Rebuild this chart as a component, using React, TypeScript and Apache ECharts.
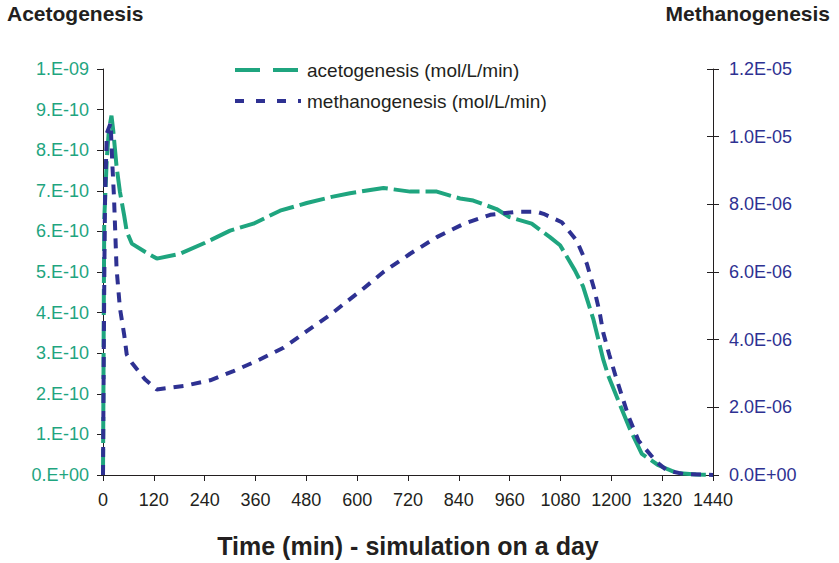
import React, { useEffect, useRef } from "react";
import * as echarts from "echarts";

const acetoTime = [0, 1, 2, 3, 9, 14, 20, 24, 32, 40, 50, 56, 68, 99, 127, 182, 241, 300, 355, 418, 481, 540, 583, 662, 725, 788, 843, 874, 929, 960, 1012, 1055, 1079, 1114, 1133, 1158, 1181, 1193, 1220, 1244, 1272, 1311, 1354, 1400, 1440];
const acetoValues = [0, 2.0e-10, 4.5e-10, 6.3e-10, 7.8e-10, 8.5e-10, 8.85e-10, 8.5e-10, 7.6e-10, 6.97e-10, 6.39e-10, 6.0e-10, 5.7e-10, 5.5e-10, 5.33e-10, 5.45e-10, 5.72e-10, 6.02e-10, 6.19e-10, 6.51e-10, 6.7e-10, 6.85e-10, 6.94e-10, 7.07e-10, 6.98e-10, 6.98e-10, 6.81e-10, 6.76e-10, 6.55e-10, 6.35e-10, 6.19e-10, 5.86e-10, 5.66e-10, 5.04e-10, 4.65e-10, 3.82e-10, 2.84e-10, 2.44e-10, 1.74e-10, 1.13e-10, 0.52e-10, 0.24e-10, 0.05e-10, 0.01e-10, 0];

const methanoTime = [0, 1, 2, 3.5, 5, 9, 18, 22, 26, 28, 32, 40, 50, 56, 68, 99, 127, 190, 253, 308, 363, 426, 481, 536, 583, 611, 662, 725, 788, 851, 914, 976, 1024, 1040, 1083, 1118, 1142, 1159, 1172, 1181, 1195, 1209, 1225, 1240, 1264, 1307, 1331, 1370, 1440];
const methanoValues = [0, 2.0e-6, 4.0e-6, 6.5e-6, 8.3e-6, 10.1e-6, 10.4e-6, 9.2e-6, 8.2e-6, 7.5e-6, 6.1e-6, 4.93e-6, 4.15e-6, 3.56e-6, 3.32e-6, 2.83e-6, 2.53e-6, 2.63e-6, 2.8e-6, 3.07e-6, 3.37e-6, 3.76e-6, 4.25e-6, 4.73e-6, 5.2e-6, 5.47e-6, 6.0e-6, 6.54e-6, 7.03e-6, 7.42e-6, 7.69e-6, 7.78e-6, 7.78e-6, 7.72e-6, 7.47e-6, 6.93e-6, 6.25e-6, 5.52e-6, 4.83e-6, 4.2e-6, 3.56e-6, 2.97e-6, 2.34e-6, 1.75e-6, 1.02e-6, 0.38e-6, 0.14e-6, 0.03e-6, 0];

const leftTickLabels = ["0.E+00", "1.E-10", "2.E-10", "3.E-10", "4.E-10", "5.E-10", "6.E-10", "7.E-10", "8.E-10", "9.E-10", "1.E-09"];
const rightTickLabels = ["0.0E+00", "2.0E-06", "4.0E-06", "6.0E-06", "8.0E-06", "1.0E-05", "1.2E-05"];

const seriesNames = ["acetogenesis (mol/L/min)", "methanogenesis (mol/L/min)"];
const leftTitle = "Acetogenesis";
const rightTitle = "Methanogenesis";
const xTitle = "Time (min) - simulation on a day";

const GREEN = "#1FA57F";
const BLUE = "#2E3192";
const DARK = "#231F20";
const FONT = "'Liberation Sans', Arial, sans-serif";

export default function App() {
  const ref = useRef<HTMLDivElement>(null);
  useEffect(() => {
    if (!ref.current) return;
    const chart = echarts.init(ref.current, null, { renderer: "svg" });
    const legendX = 235;
    const legendY = [70, 101];
    const legendDash = [[25, 13], [9, 12]];
    const legendColors = [GREEN, BLUE];
    chart.setOption({
      animation: false,
      backgroundColor: "#ffffff",
      textStyle: { fontFamily: FONT },
      title: [
        {
          text: leftTitle,
          left: 7,
          top: 3,
          padding: 0,
          textStyle: { fontFamily: FONT, fontSize: 21, fontWeight: "bold", color: DARK },
        },
        {
          text: rightTitle,
          right: 9,
          top: 3,
          padding: 0,
          textStyle: { fontFamily: FONT, fontSize: 21, fontWeight: "bold", color: DARK },
        },
      ],
      graphic: seriesNames.flatMap((name, i) => [
        {
          type: "line",
          shape: { x1: legendX, y1: legendY[i], x2: legendX + 66, y2: legendY[i] },
          style: { stroke: legendColors[i], lineWidth: 4, lineDash: legendDash[i] },
        },
        {
          type: "text",
          x: legendX + 72,
          y: legendY[i],
          style: {
            text: name,
            fontFamily: FONT,
            fontSize: 19,
            fill: DARK,
            verticalAlign: "middle",
            align: "left",
          },
        },
      ]),
      grid: { left: 103, right: 126, top: 69, bottom: 85, containLabel: false },
      xAxis: {
        type: "value",
        min: 0,
        max: 1440,
        interval: 120,
        name: xTitle,
        nameLocation: "middle",
        nameGap: 58,
        nameTextStyle: { fontFamily: FONT, fontSize: 25, fontWeight: "bold", color: DARK },
        axisLine: { show: true, onZero: false, lineStyle: { color: DARK, width: 1 } },
        axisTick: { show: true, inside: false, length: 6, lineStyle: { color: DARK } },
        axisLabel: {
          margin: 16,
          fontSize: 18,
          color: DARK,
          fontFamily: FONT,
          formatter: (v: number) => String(v),
        },
        splitLine: { show: false },
      },
      yAxis: [
        {
          type: "value",
          position: "left",
          min: 0,
          max: 1e-9,
          interval: 1e-10,
          axisLine: { show: true, lineStyle: { color: DARK, width: 1 } },
          axisTick: { show: true, inside: false, length: 6, lineStyle: { color: DARK } },
          axisLabel: {
            margin: 14,
            fontSize: 18,
            color: GREEN,
            fontFamily: FONT,
            formatter: (v: number) => leftTickLabels[Math.round(v / 1e-10)] ?? "",
          },
          splitLine: { show: false },
        },
        {
          type: "value",
          position: "right",
          min: 0,
          max: 1.2e-5,
          interval: 2e-6,
          axisLine: { show: true, lineStyle: { color: DARK, width: 1 } },
          axisTick: { show: true, inside: false, length: 6, lineStyle: { color: DARK } },
          axisLabel: {
            margin: 16,
            fontSize: 18,
            color: BLUE,
            fontFamily: FONT,
            formatter: (v: number) => rightTickLabels[Math.round(v / 2e-6)] ?? "",
          },
          splitLine: { show: false },
        },
        {
          type: "value",
          position: "right",
          min: 0,
          max: 1.2e-5,
          interval: 2e-6,
          axisLine: { show: false },
          axisTick: { show: true, inside: true, length: 6, lineStyle: { color: DARK } },
          axisLabel: { show: false },
          splitLine: { show: false },
        },
      ],
      series: [
        {
          name: seriesNames[0],
          type: "line",
          yAxisIndex: 0,
          symbol: "none",
          showSymbol: false,
          smooth: false,
          data: acetoTime.map((t, i) => [t, acetoValues[i]]),
          lineStyle: { color: GREEN, width: 4, type: [26, 6] },
          itemStyle: { color: GREEN },
        },
        {
          name: seriesNames[1],
          type: "line",
          yAxisIndex: 1,
          symbol: "none",
          showSymbol: false,
          smooth: false,
          data: methanoTime.map((t, i) => [t, methanoValues[i]]),
          lineStyle: { color: BLUE, width: 4, type: [10, 8] },
          itemStyle: { color: BLUE },
        },
      ],
    });
    return () => chart.dispose();
  }, []);
  return (
    <div
      ref={ref}
      style={{ position: "fixed", left: 0, top: 0, width: 839, height: 563, background: "#fff" }}
    />
  );
}
